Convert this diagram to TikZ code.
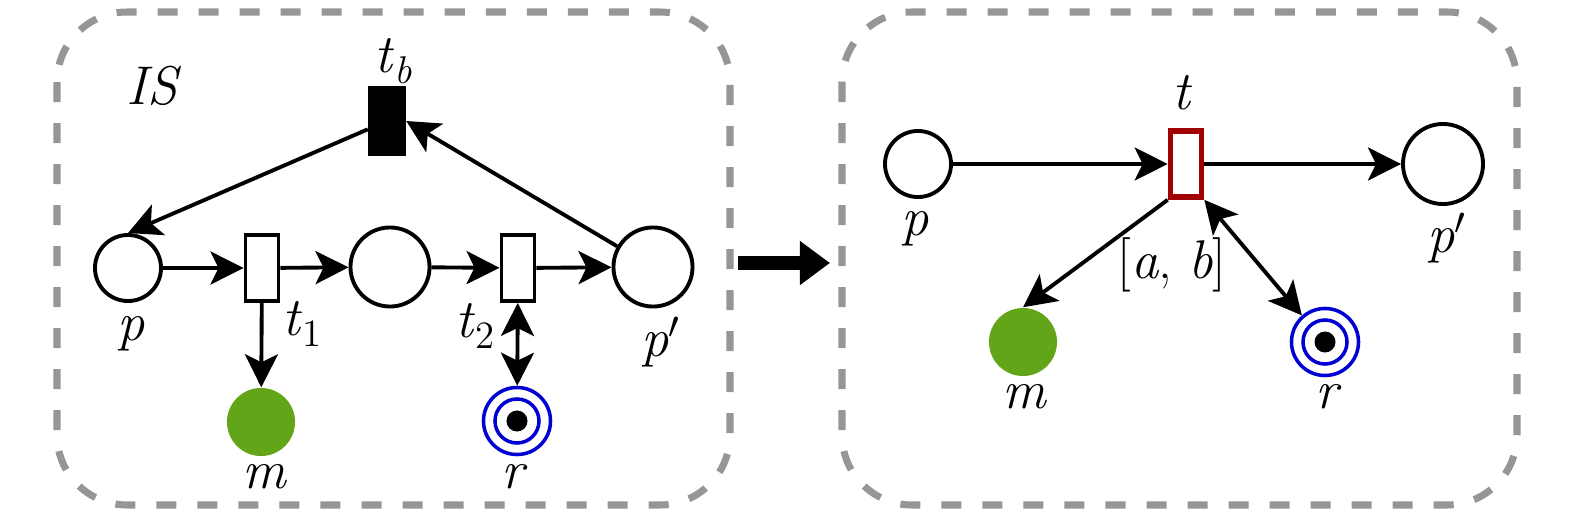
\documentclass[tikz,border=0pt]{standalone}
\usepackage{fontspec}
\usetikzlibrary{arrows.meta}
\definecolor{petgreen}{RGB}{98,165,24}
\definecolor{resblue}{RGB}{0,0,210}
\definecolor{tred}{RGB}{160,0,0}
\definecolor{panelgray}{RGB}{150,150,150}
\newcommand{\subtext}[1]{\raisebox{-0.45ex}{\fontsize{11}{11}\selectfont #1}}
\begin{document}
\begin{tikzpicture}[x=0.01cm,y=-0.01cm,
  every node/.style={inner sep=0pt},
  lbl/.style={font=\fontsize{15.5}{18}\selectfont},
  place/.style={circle, draw, line width=1.1pt, minimum size=#1},
  trans/.style={rectangle, draw, line width=1.1pt, minimum width=0.33cm, minimum height=0.66cm},
  btrans/.style={rectangle, fill=black, minimum width=0.37cm, minimum height=0.70cm},
  rtrans/.style={rectangle, draw=tred, line width=1.6pt, minimum width=0.31cm, minimum height=0.66cm},
  mplace/.style={circle, fill=petgreen, minimum size=0.68cm},
  rplace/.style={circle, draw=resblue, line width=1pt, minimum size=0.67cm,
    path picture={\draw[resblue, line width=1pt] (path picture bounding box.center) circle (0.22cm);
                  \fill[black] (path picture bounding box.center) circle (0.105cm);}},
  flow/.style={line width=1.1pt, -{Stealth[length=0.33cm,width=0.33cm,inset=0.08cm]}},
  biflow/.style={line width=1.1pt, {Stealth[length=0.33cm,width=0.33cm,inset=0.08cm]}-{Stealth[length=0.33cm,width=0.33cm,inset=0.08cm]}},
  panel/.style={draw=panelgray, line width=2pt, dash pattern=on 0.2cm off 0.21cm, rounded corners=0.7cm}
]
\useasboundingbox (0,0) rectangle (1575,518);

% panels
\draw[panel] (57,12) rectangle (730,505);
\draw[panel] (842,12) rectangle (1517,505);

% ---------- left panel ----------
\node[place=0.66cm] (p) at (128,268) {};
\node[trans] (t1) at (262,268) {};
\node[place=0.79cm] (mid) at (390,267) {};
\node[trans] (t2) at (518,268) {};
\node[place=0.79cm] (pp) at (653,267) {};
\node[btrans] (tb) at (387,121) {};
\node[mplace] (m) at (261,422) {};
\node[rplace] (r) at (517,421) {};

\node[lbl] (lIS) at (154,86) {\textit{IS}};
\node[lbl] (ltb) at (393,61) {\textit{t}\subtext{\textit{b}}};
\node[lbl] (lp) at (131,334) {\textit{p}};
\node[lbl] (lt1) at (302,324) {\textit{t}\subtext{1}};
\node[lbl] (lt2) at (475,326) {\textit{t}\subtext{2}};
\node[lbl] (lpp) at (661,342) {\textit{p}$'$};
\node[lbl] (lm) at (265,477) {\textit{m}};
\node[lbl] (lr) at (515,477) {\textit{r}};

\draw[flow] (p) -- (t1);
\draw[flow] (t1) -- (mid);
\draw[flow] (mid) -- (t2);
\draw[flow] (t2) -- (pp);
\draw[flow] (tb) -- (p.north);
\draw[flow] (pp.150) -- (tb.east);
\draw[flow] (t1) -- (m);
\draw[biflow] (t2) -- (r);

% ---------- middle arrow ----------
\coordinate (bs) at (738,263);
\coordinate (be) at (830,263);
\draw[line width=0.14cm, -{Triangle[length=0.30cm,width=0.42cm]}] (bs) -- (be);

% ---------- right panel ----------
\node[place=0.66cm] (q) at (918,164) {};
\node[rtrans] (t) at (1186,164) {};
\node[place=0.80cm] (qq) at (1443,164) {};
\node[mplace] (m2) at (1023,342) {};
\node[rplace] (r2) at (1325,342) {};

\node[lbl] (lt) at (1182,93) {\textit{t}};
\node[lbl] (lq) at (915,229) {\textit{p}};
\node[lbl] (lqq) at (1447,238) {\textit{p}$'$};
\node[lbl] (lab) at (1172,265) {[\textit{a}, \textit{b}]};
\node[lbl] (lm2) at (1025,397) {\textit{m}};
\node[lbl] (lr2) at (1329,397) {\textit{r}};

\draw[flow] (q) -- (t);
\draw[flow] (t) -- (qq);
\draw[flow] (t.south west) -- (m2.north);
\draw[biflow] (t.south east) -- (r2.131);
\end{tikzpicture}
\end{document}
